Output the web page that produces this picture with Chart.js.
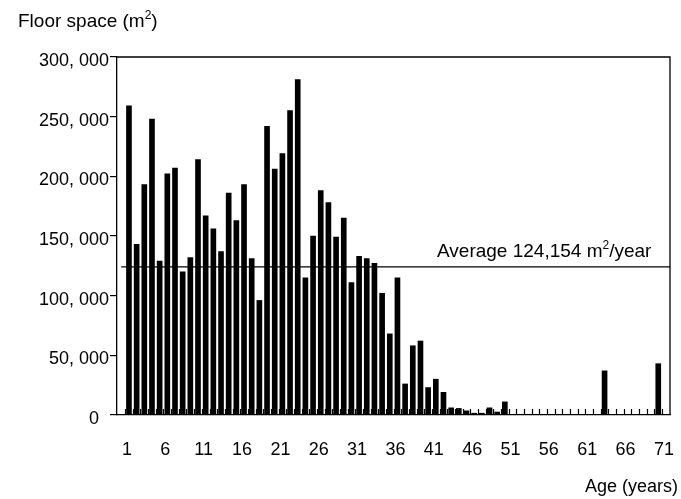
<!DOCTYPE html>
<html>
<head>
<meta charset="utf-8">
<script src="https://cdn.jsdelivr.net/npm/chart.js@4.4.0/dist/chart.umd.min.js"></script>
<style>
body { margin: 0; background: #fff; }
</style>
</head>
<body>
<canvas id="chart-floorspace" width="681" height="499"></canvas>
<script>
// building age (years) and floor space built for each age (m2)
var ages = [1, 2, 3, 4, 5, 6, 7, 8, 9, 10,
    11, 12, 13, 14, 15, 16, 17, 18, 19, 20,
    21, 22, 23, 24, 25, 26, 27, 28, 29, 30,
    31, 32, 33, 34, 35, 36, 37, 38, 39, 40,
    41, 42, 43, 44, 45, 46, 47, 48, 49, 50,
    51, 52, 53, 54, 55, 56, 57, 58, 59, 60,
    61, 62, 63, 64, 65, 66, 67, 68, 69, 70, 71];
var floorSpace = [259000, 143000, 193000, 248000, 129000, 202000, 207000, 120000, 132000, 214000,
    167000, 156000, 137000, 186000, 163000, 193000, 131000, 96000, 242000, 206000,
    219000, 255000, 281000, 115000, 150000, 188000, 178000, 149000, 165000, 111000,
    133000, 131000, 127000, 102000, 68000, 115000, 26000, 58000, 62000, 23000,
    30000, 19000, 6000, 5500, 3500, 1500, 1500, 6000, 2500, 11000,
    0, 0, 0, 0, 0, 0, 0, 0, 0, 0,
    0, 0, 37000, 0, 0, 0, 0, 0, 0, 43000, 0];
var xTickAges = [1, 6, 11, 16, 21, 26, 31, 36, 41, 46, 51, 56, 61, 66, 71];
var yTicks = [0, 50000, 100000, 150000, 200000, 250000, 300000];
var AVERAGE = 124154;
var X_MIN = -0.56, X_MAX = 71.53;

var FONT = '"Liberation Sans", Arial, sans-serif';

var barPoints = ages.map(function (a, i) { return { x: a, y: floorSpace[i] }; });
var avgPoints = [{ x: 0, y: AVERAGE }, { x: X_MAX, y: AVERAGE }];

// text with one superscript piece: before + sup + after
function supText(ctx, before, sup, after, x, y, size, alignRight) {
    ctx.font = size + 'px ' + FONT;
    var w1 = ctx.measureText(before).width;
    var w3 = ctx.measureText(after).width;
    var supSize = Math.round(size * 0.62);
    ctx.font = supSize + 'px ' + FONT;
    var w2 = ctx.measureText(sup).width;
    var x0 = alignRight ? x - (w1 + w2 + w3) : x;
    ctx.textAlign = 'left';
    ctx.textBaseline = 'alphabetic';
    ctx.fillStyle = '#000';
    ctx.font = size + 'px ' + FONT;
    ctx.fillText(before, x0, y);
    ctx.font = supSize + 'px ' + FONT;
    ctx.fillText(sup, x0 + w1, y - size * 0.42);
    ctx.font = size + 'px ' + FONT;
    ctx.fillText(after, x0 + w1 + w2, y);
}

var frameAndText = {
    id: 'frameAndText',
    afterDraw: function (chart) {
        var ctx = chart.ctx;
        var area = chart.chartArea;
        var xs = chart.scales.x;
        var ys = chart.scales.y;
        ctx.save();
        ctx.strokeStyle = '#000';
        ctx.lineWidth = 1.3;
        ctx.beginPath();
        ctx.moveTo(area.left, area.top);
        ctx.lineTo(area.right, area.top);
        ctx.lineTo(area.right, area.bottom);
        ctx.stroke();

        // small inward ticks between the years
        ctx.lineWidth = 1.2;
        ctx.beginPath();
        for (var i = 0; i < ages.length; i++) {
            var px = Math.round(xs.getPixelForValue(ages[i] - 0.5)) + 0.5;
            ctx.moveTo(px, area.bottom);
            ctx.lineTo(px, area.bottom - 6);
        }
        ctx.stroke();

        supText(ctx, 'Floor space (m', '2', ')', 18, 27, 19, false);
        ctx.font = '18px ' + FONT;
        ctx.textAlign = 'right';
        ctx.fillText('Age (years)', 678, 492);
        supText(ctx, 'Average 124,154 m', '2', '/year', 437, ys.getPixelForValue(AVERAGE) - 10, 19, false);
        ctx.restore();
    }
};

var ctx = document.getElementById('chart-floorspace').getContext('2d');
var floorChart = new Chart(ctx, {
    type: 'bar',
    data: {
        datasets: [{
            type: 'line',
            data: avgPoints,
            borderColor: '#000',
            borderWidth: 1.3,
            pointRadius: 0,
            order: 0
        }, {
            type: 'bar',
            data: barPoints,
            backgroundColor: '#000',
            barThickness: 5,
            order: 1
        }]
    },
    options: {
        responsive: false,
        animation: false,
        devicePixelRatio: 1,
        layout: { padding: { top: 57, right: 11, left: 0, bottom: 0 } },
        plugins: {
            legend: { display: false },
            tooltip: { enabled: false }
        },
        scales: {
            x: {
                type: 'linear',
                min: X_MIN,
                max: X_MAX,
                offset: false,
                grid: { display: false, drawTicks: false, tickLength: 0 },
                border: { display: true, color: '#000', width: 1.3 },
                afterBuildTicks: function (scale) {
                    scale.ticks = xTickAges.map(function (v) { return { value: v }; });
                },
                afterFit: function (scale) {
                    scale.height = 84;
                    scale.paddingLeft = 0;
                    scale.paddingRight = 0;
                },
                ticks: {
                    color: '#000',
                    font: { family: FONT, size: 18 },
                    padding: 24,
                    maxRotation: 0,
                    autoSkip: false,
                    labelOffset: -2
                }
            },
            y: {
                min: 0,
                max: 300000,
                afterBuildTicks: function (scale) {
                    scale.ticks = yTicks.map(function (v) { return { value: v }; });
                },
                afterFit: function (scale) {
                    scale.width = 117;
                    scale.paddingTop = 0;
                    scale.paddingBottom = 0;
                },
                grid: { drawOnChartArea: false, tickLength: 7, color: '#000', lineWidth: 1.2 },
                border: { display: true, color: '#000', width: 1.3 },
                ticks: {
                    color: '#000',
                    font: { family: FONT, size: 18 },
                    padding: 1,
                    labelOffset: 4,
                    callback: function (v) {
                        if (v === 0) return '0  ';
                        return v.toLocaleString('en-US').replace(',', ', ');
                    }
                }
            }
        }
    },
    plugins: [frameAndText]
});
</script>
</body>
</html>
